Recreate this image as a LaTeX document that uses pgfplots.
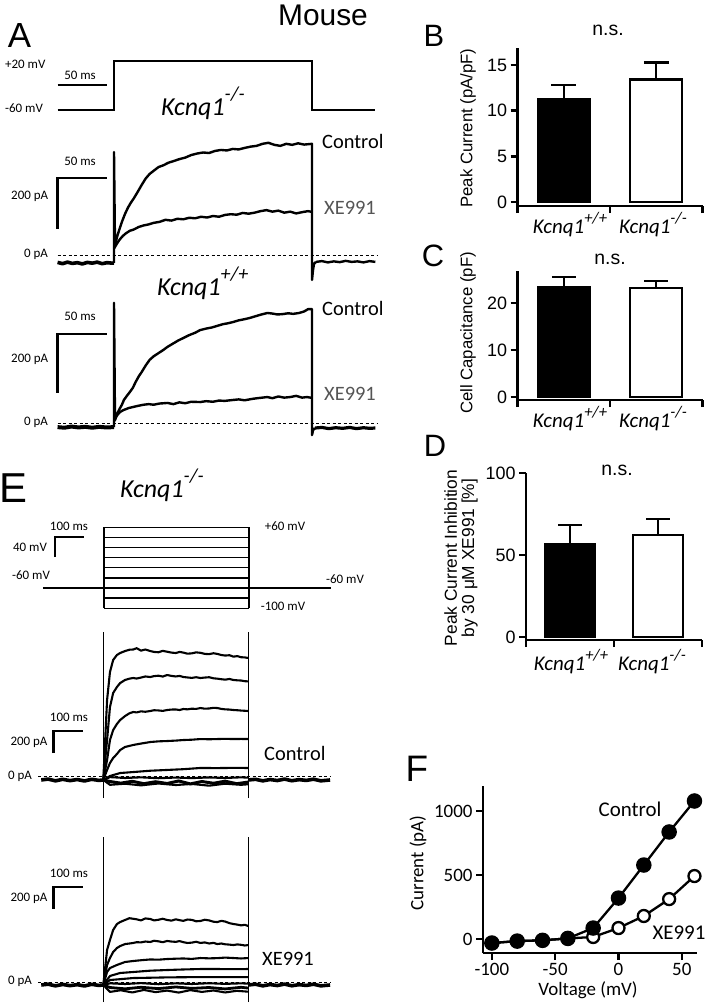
\documentclass[border=0pt]{standalone}
\usepackage{pgfplots}
\pgfplotsset{compat=1.18}
\usepackage{fontspec}
\setmainfont{Carlito}
\newfontfamily\arial{Liberation Sans}
\newcommand\fs[1]{\fontsize{#1}{#1}\selectfont}
\newcommand\supbig[1]{\raisebox{0.55em}{\fs{20}#1}}
\newcommand\supsm[1]{\raisebox{0.45em}{\fs{16.5}#1}}
\definecolor{xegray}{HTML}{555555}

\pgfplotsset{
  trace/.style={hide axis, scale only axis, clip=false, anchor=south west},
  bars/.style={scale only axis, anchor=south west, clip=false,
    xmin=0.5, xmax=2.5,
    axis x line*=bottom, axis y line*=left,
    xtick={0.5,1.5,2.5}, xticklabels={},
    tick align=outside, major tick length=7bp,
    axis line style={line width=2.4bp, black},
    tick style={line width=2.4bp, black},
    yticklabel style={font=\arial\fs{18}},
    /pgf/number format/assume math mode=true},
  sem/.style={error bars/.cd, y dir=plus, y explicit, error mark=|,
    error bar style={line width=2.4bp, black},
    error mark options={line width=2.4bp, mark size=#1, black}},
}
\tikzset{
  t/.style={inner sep=0pt},
  tr/.style={black, line width=2.4bp, line join=round},
  etr/.style={black, line width=2.1bp, line join=round},
  sb/.style={black, line width=2.6bp},
  zero/.style={black, line width=0.8bp, dash pattern=on 3bp off 2.5bp},
}

\begin{document}
\begin{tikzpicture}
\useasboundingbox (0,0) rectangle (709bp,-1007bp);

% ---------------- A: voltage protocol
\begin{axis}[trace, at={(54.6bp,-122.25bp)}, width=326.7bp, height=73.5bp,
  xmin=-60, xmax=270, ymin=-80, ymax=40]
\addplot[black, line width=1.6bp] coordinates {(-57,-60) (0,-60) (0,20) (200,20) (200,-60) (264,-60)};
\addplot[sb] coordinates {(-57,-19) (-7,-19)};
\end{axis}

% ---------------- A: Kcnq1 -/- currents
\begin{axis}[trace, at={(54.6bp,-293.25bp)}, width=326.7bp, height=165.75bp,
  xmin=-60, xmax=270, ymin=-150, ymax=500]
\addplot[zero] coordinates {(-57,0) (266,0)};
\addplot[sb] coordinates {(-57,102) (-57,302) (-7,302)};
\addplot[tr, line width=3.6bp] coordinates {(-57,-29)(-52,-34)(-47,-28)(-42,-33)(-37,-30)(-32,-35)(-27,-29)(-22,-32)(-17,-28)(-12,-34)(-7,-30)(-2,-32)(0,-31)};
\addplot[tr] coordinates {(0,-31)(0,404)(1,35)(3,70)(5,95)(8,130)(11,160)(14,185)(17,205)(20,222)(24,248)(28,275)(32,300)(36,318)(40,330)(45,345)(50,352)(55,362)(60,368)(66,376)(72,382)(78,392)(84,398)(90,402)(96,400)(102,408)(108,412)(114,410)(120,416)(126,414)(132,420)(138,425)(144,428)(150,436)(156,440)(162,432)(168,428)(174,436)(180,432)(186,438)(192,433)(200,436)(200,-98)(201,-60)(202,-35)(204,-27)};
\addplot[tr] coordinates {(0,25)(3,45)(6,62)(9,75)(12,85)(16,95)(20,100)(25,110)(30,116)(35,120)(40,126)(46,130)(52,138)(58,135)(64,142)(70,140)(76,146)(82,144)(88,150)(94,147)(100,153)(106,150)(112,157)(118,160)(124,158)(130,165)(136,162)(142,166)(148,172)(154,176)(160,170)(166,174)(172,166)(178,170)(184,163)(190,168)(196,172)(200,169)};
\addplot[tr] coordinates {(204,-27)(210,-24)(216,-29)(222,-25)(228,-28)(234,-23)(240,-27)(246,-25)(252,-29)(258,-24)(264,-27)};
\end{axis}

% ---------------- A: Kcnq1 +/+ currents
\begin{axis}[trace, at={(54.6bp,-452.5bp)}, width=326.7bp, height=162.25bp,
  xmin=-60, xmax=270, ymin=-100, ymax=450]
\addplot[zero] coordinates {(-57,0) (266,0)};
\addplot[sb] coordinates {(-57,102) (-57,302) (-7,302)};
\addplot[tr, line width=4bp] coordinates {(-57,-14)(-50,-16)(-43,-12)(-36,-15)(-29,-13)(-22,-16)(-15,-13)(-8,-15)(0,-14)};
\addplot[tr] coordinates {(0,-14)(0,407)(1,10)(3,30)(5,44)(8,62)(10,78)(13,92)(16,105)(19,119)(22,140)(25,158)(28,173)(32,195)(36,214)(40,226)(45,237)(50,248)(54,258)(60,270)(65,280)(70,288)(76,298)(82,306)(87,315)(93,320)(99,324)(104,329)(110,335)(115,338)(120,342)(126,348)(132,352)(137,356)(143,362)(149,368)(155,373)(160,371)(165,368)(170,369)(176,372)(181,370)(187,373)(192,378)(196,386)(200,386)(200,-41)(201,-25)(203,-17)};
\addplot[tr] coordinates {(0,5)(2,20)(4,30)(6,37)(9,43)(12,47)(15,51)(19,54)(24,58)(30,62)(35,64)(40,62)(46,66)(54,68)(60,64)(66,70)(72,67)(78,72)(87,71)(93,74)(100,72)(106,76)(112,75)(120,78)(126,80)(132,77)(140,82)(147,85)(155,88)(160,84)(166,90)(172,86)(178,88)(184,92)(190,86)(195,88)(200,85)};
\addplot[tr, line width=3.2bp] coordinates {(203,-17)(210,-15)(217,-19)(224,-16)(231,-18)(238,-15)(245,-19)(252,-16)(258,-18)(264,-17)};
\end{axis}

% ---------------- B
\begin{axis}[bars, at={(517.5bp,-206bp)}, width=185bp, height=158.3bp,
  ymin=-0.44, ymax=16.9, ytick={0,5,10,15}]
\addplot[ybar, bar width=52bp, fill=black, draw=black, line width=2.4bp, sem=12.5bp]
  coordinates {(1,11.3) +- (0,1.5)};
\addplot[ybar, bar width=52bp, fill=white, draw=black, line width=2.4bp, sem=12.5bp]
  coordinates {(2,13.4) +- (0,1.9)};
\end{axis}

% ---------------- C
\begin{axis}[bars, at={(517.5bp,-400bp)}, width=185bp, height=129bp,
  ymin=-0.64, ymax=26.8, ytick={0,10,20}]
\addplot[ybar, bar width=52bp, fill=black, draw=black, line width=2.4bp, sem=12bp]
  coordinates {(1,23.4) +- (0,2.1)};
\addplot[ybar, bar width=52bp, fill=white, draw=black, line width=2.4bp, sem=12bp]
  coordinates {(2,23.2) +- (0,1.5)};
\end{axis}

% ---------------- D
\begin{axis}[bars, at={(526bp,-640bp)}, width=176bp, height=167bp,
  ymin=-1.8, ymax=100, ytick={0,50,100}]
\addplot[ybar, bar width=50bp, fill=black, draw=black, line width=2.4bp, sem=12bp]
  coordinates {(1,56.7) +- (0,11.6)};
\addplot[ybar, bar width=50bp, fill=white, draw=black, line width=2.4bp, sem=12bp]
  coordinates {(2,62.2) +- (0,9.8)};
\end{axis}

% ---------------- E: step protocol
\begin{axis}[trace, at={(37.3bp,-613.3bp)}, width=298.7bp, height=91.1bp,
  xmin=-230, xmax=800, ymin=-110, ymax=70]
\addplot[black, line width=1.4bp] coordinates {(-211,-60) (782,-60)};
\addplot[black, line width=1.4bp] coordinates {(0,-100) (500,-100)};
\addplot[black, line width=1.4bp] coordinates {(0,-80) (500,-80)};
\addplot[black, line width=1.4bp] coordinates {(0,-40) (500,-40)};
\addplot[black, line width=1.4bp] coordinates {(0,-20) (500,-20)};
\addplot[black, line width=1.4bp] coordinates {(0,0) (500,0)};
\addplot[black, line width=1.4bp] coordinates {(0,20) (500,20)};
\addplot[black, line width=1.4bp] coordinates {(0,40) (500,40)};
\addplot[black, line width=1.4bp] coordinates {(0,60) (500,60)};
\addplot[black, line width=1.4bp] coordinates {(0,-100) (0,60)};
\addplot[black, line width=1.4bp] coordinates {(500,-100) (500,60)};
\addplot[sb] coordinates {(-169,1) (-169,41) (-69,41)};
\end{axis}

% ---------------- E: control family
\begin{axis}[trace, at={(36.6bp,-809bp)}, width=298.7bp, height=187bp,
  xmin=-230, xmax=800, ymin=-300, ymax=1400]
\addplot[zero] coordinates {(-225,0) (785,0)};
\addplot[sb] coordinates {(-171,209) (-171,409) (-71,409)};
\addplot[etr, line width=3.6bp] coordinates {(-214,-36)(-190,-28)(-165,-44)(-140,-30)(-115,-42)(-90,-32)(-65,-45)(-40,-30)(-15,-40)(0,-36)};
\addplot[etr, line width=3.6bp] coordinates {(500,-36)(525,-30)(550,-44)(575,-32)(600,-41)(625,-28)(650,-43)(675,-33)(700,-40)(725,-29)(750,-44)(782,-36)};
\addplot[etr, line width=3bp] coordinates {(0,-36)(23,-50)(60,-65)(100,-48)(140,-70)(180,-52)(220,-68)(260,-45)(300,-72)(340,-50)(380,-66)(420,-47)(460,-70)(500,-55)};
\addplot[etr] coordinates {(0,-36)(23,-80)(75,-70)(130,-85)(190,-68)(250,-82)(305,-72)(365,-88)(420,-70)(475,-80)(500,-75)};
\addplot[etr] coordinates {(0,-36)(23,-10)(75,-18)(130,-12)(190,-20)(250,-14)(305,-19)(365,-13)(420,-18)(475,-12)(500,-15)};
\addplot[etr] coordinates {(0,-36)(23,0)(58,27)(103,36)(162,48)(220,55)(276,62)(335,73)(393,72)(449,74)(500,73)};
\addplot[etr] coordinates {(0,-36)(13,55)(23,118)(34,164)(47,200)(58,236)(75,264)(103,282)(130,295)(162,309)(190,315)(220,318)(250,322)(276,327)(305,330)(335,336)(365,334)(393,336)(420,338)(449,336)(475,337)(500,336)};
\addplot[etr] coordinates {(0,-36)(13,145)(23,327)(34,418)(47,473)(58,509)(75,545)(90,570)(103,582)(115,578)(130,588)(145,584)(162,591)(175,598)(190,596)(205,592)(220,600)(235,604)(250,605)(263,600)(276,609)(290,606)(305,612)(320,610)(335,618)(350,612)(365,614)(380,620)(393,618)(407,610)(420,606)(435,604)(449,600)(462,598)(475,595)(488,593)(500,591)};
\addplot[etr] coordinates {(0,-36)(13,327)(23,627)(34,755)(47,809)(58,845)(75,873)(90,885)(103,891)(115,886)(130,895)(145,905)(162,900)(175,908)(190,912)(205,904)(220,918)(235,910)(250,905)(263,910)(276,900)(290,896)(305,892)(320,898)(335,891)(350,895)(365,898)(380,888)(393,885)(407,880)(420,876)(435,882)(449,873)(462,870)(475,868)(488,862)(500,860)};
\addplot[etr] coordinates {(0,-36)(13,691)(23,945)(34,1055)(47,1100)(58,1118)(75,1136)(90,1148)(103,1150)(115,1162)(130,1140)(145,1150)(162,1136)(175,1128)(190,1125)(205,1138)(220,1130)(235,1122)(250,1118)(263,1128)(276,1122)(290,1112)(305,1115)(320,1124)(335,1120)(350,1110)(365,1108)(380,1116)(393,1110)(407,1100)(420,1095)(435,1098)(449,1085)(462,1090)(475,1080)(488,1078)(500,1073)};
\addplot[black, line width=1.6bp] coordinates {(0,-200) (0,1309)};
\addplot[black, line width=1.6bp] coordinates {(500,-200) (500,1309)};
\end{axis}

% ---------------- E: XE991 family
\begin{axis}[trace, at={(36.6bp,-1015bp)}, width=298.7bp, height=187bp,
  xmin=-230, xmax=800, ymin=-300, ymax=1400]
\addplot[zero] coordinates {(-225,0) (785,0)};
\addplot[sb] coordinates {(-171,664) (-171,864) (-71,864)};
\addplot[etr, line width=3.6bp] coordinates {(-214,-27)(-190,-20)(-165,-35)(-140,-22)(-115,-33)(-90,-24)(-65,-36)(-40,-21)(-15,-31)(0,-27)};
\addplot[etr, line width=3.6bp] coordinates {(500,-27)(525,-20)(550,-35)(575,-23)(600,-32)(625,-19)(650,-34)(675,-24)(700,-31)(725,-20)(750,-35)(782,-27)};
\addplot[etr] coordinates {(0,-27)(23,-90)(60,-75)(100,-95)(140,-72)(180,-92)(220,-78)(260,-96)(300,-74)(340,-90)(380,-77)(420,-95)(460,-80)(500,-88)};
\addplot[etr, line width=2.8bp] coordinates {(0,-27)(23,-50)(75,-62)(130,-48)(190,-60)(250,-45)(305,-58)(365,-50)(420,-63)(475,-48)(500,-55)};
\addplot[etr] coordinates {(0,-27)(23,-12)(75,-18)(130,-10)(190,-20)(250,-12)(305,-18)(365,-11)(420,-17)(475,-12)(500,-15)};
\addplot[etr] coordinates {(0,-27)(23,18)(103,36)(220,42)(335,45)(449,45)(500,45)};
\addplot[etr] coordinates {(0,-27)(23,55)(58,82)(103,91)(162,103)(220,109)(276,114)(335,118)(393,118)(449,117)(500,118)};
\addplot[etr] coordinates {(0,-27)(13,91)(23,127)(47,155)(75,182)(103,191)(130,198)(162,205)(190,203)(220,209)(250,212)(276,214)(305,210)(335,218)(365,215)(393,217)(420,222)(449,218)(475,214)(500,218)};
\addplot[etr] coordinates {(0,-27)(13,155)(23,218)(34,273)(47,309)(58,327)(75,345)(90,350)(103,355)(115,362)(130,360)(145,368)(162,364)(175,375)(190,370)(205,362)(220,373)(235,368)(250,365)(263,372)(276,362)(290,355)(305,358)(320,366)(335,355)(350,360)(365,350)(380,356)(393,345)(407,350)(420,343)(435,340)(449,336)(462,342)(475,338)(488,332)(500,336)};
\addplot[etr] coordinates {(0,-27)(13,291)(23,382)(34,473)(47,527)(58,545)(75,564)(90,580)(103,575)(115,570)(130,560)(145,578)(162,573)(175,560)(190,566)(205,575)(220,564)(235,558)(250,570)(263,562)(276,556)(290,568)(305,565)(320,552)(335,555)(350,566)(365,560)(380,548)(393,545)(407,556)(420,550)(435,535)(449,527)(462,522)(475,515)(488,520)(500,509)};
\addplot[black, line width=1.6bp] coordinates {(0,-182) (0,1318)};
\addplot[black, line width=1.6bp] coordinates {(500,-182) (500,1318)};
\end{axis}

% ---------------- F: I-V
\begin{axis}[scale only axis, anchor=south west, at={(483bp,-953bp)},
  width=214bp, height=167bp, clip=false,
  xmin=-107, xmax=62, ymin=-109, ymax=1195,
  axis x line*=bottom, axis y line*=left,
  xtick={-100,-50,0,50}, ytick={0,500,1000},
  tick align=outside, major tick length=7bp,
  axis line style={line width=2.3bp, black},
  tick style={line width=2.3bp, black},
  ticklabel style={font=\fs{19}},
  /pgf/number format/assume math mode=true,
  /pgf/number format/1000 sep={}]
\addplot[black, line width=2.3bp, mark=*, mark size=6bp,
  mark options={fill=white, line width=2.3bp}]
  coordinates {(-100,-31) (-80,-16) (-60,-10) (-40,5) (-20,16) (0,86) (20,180) (40,312) (60,492)};
\addplot[black, line width=2.3bp, mark=*, mark size=6.6bp,
  mark options={fill=black}]
  coordinates {(-100,-31) (-80,-16) (-60,-10) (-40,5) (-20,86) (0,320) (20,578) (40,836) (60,1078)};
\end{axis}

% ---------------- texts
\node[t, font=\arial\fs{35}] at (19.5bp,-36bp) {A};
\node[t, font=\arial\fs{31}] at (434bp,-36bp) {B};
\node[t, font=\arial\fs{31}] at (433bp,-256bp) {C};
\node[t, font=\arial\fs{31}] at (435bp,-446bp) {D};
\node[t, font=\arial\fs{42}] at (13bp,-488bp) {E};
\node[t, font=\arial\fs{37}] at (417bp,-769bp) {F};
\node[t, font=\arial\fs{30}] at (323bp,-15bp) {Mouse};

\node[t, font=\fs{13}, anchor=mid west] at (5bp,-66bp) {+20 mV};
\node[t, font=\fs{13}, anchor=mid west] at (5bp,-110bp) {-60 mV};
\node[t, font=\fs{13}, anchor=mid] at (80bp,-77bp) {50 ms};
\node[t, font=\itshape\fs{26}, anchor=base west] at (161bp,-115bp) {Kcnq1\supbig{-/-}};
\node[t, font=\fs{13}, anchor=mid] at (80bp,-163bp) {50 ms};
\node[t, font=\fs{13}, anchor=mid west] at (11bp,-197bp) {200 pA};
\node[t, font=\fs{13}, anchor=mid west] at (24bp,-255bp) {0 pA};
\node[t, font=\fs{20.5}, anchor=mid west] at (322bp,-146bp) {Control};
\node[t, font=\fs{20.5}, anchor=mid west, text=xegray] at (324bp,-212bp) {XE991};
\node[t, font=\itshape\fs{26}, anchor=base west] at (157bp,-295bp) {Kcnq1\supbig{+/+}};
\node[t, font=\fs{13}, anchor=mid] at (80bp,-318bp) {50 ms};
\node[t, font=\fs{13}, anchor=mid west] at (11bp,-360bp) {200 pA};
\node[t, font=\fs{13}, anchor=mid west] at (24bp,-423bp) {0 pA};
\node[t, font=\fs{20.5}, anchor=mid west] at (322bp,-313bp) {Control};
\node[t, font=\fs{20.5}, anchor=mid west, text=xegray] at (324bp,-398bp) {XE991};

\node[t, font=\arial\fs{19.5}, anchor=mid] at (608bp,-33bp) {n.s.};
\node[t, font=\arial\fs{16.8}, rotate=90] at (468bp,-128bp) {Peak Current (pA/pF)};
\node[t, font=\itshape\fs{21}, anchor=base] at (570bp,-233bp) {Kcnq1\supsm{+/+}};
\node[t, font=\itshape\fs{21}, anchor=base] at (653bp,-233bp) {Kcnq1\supsm{-/-}};

\node[t, font=\arial\fs{19.5}, anchor=mid] at (610bp,-262bp) {n.s.};
\node[t, font=\arial\fs{16.8}, rotate=90] at (468bp,-333bp) {Cell Capacitance (pF)};
\node[t, font=\itshape\fs{21}, anchor=base] at (570bp,-427bp) {Kcnq1\supsm{+/+}};
\node[t, font=\itshape\fs{21}, anchor=base] at (653bp,-427bp) {Kcnq1\supsm{-/-}};

\node[t, font=\arial\fs{19.5}, anchor=mid] at (617bp,-473bp) {n.s.};
\node[t, font=\arial\fs{17.4}, rotate=90, align=center] at (461bp,-558bp) {Peak Current Inhibition\\by 30 μM XE991 [\%]};
\node[t, font=\itshape\fs{21}, anchor=base] at (571bp,-670bp) {Kcnq1\supsm{+/+}};
\node[t, font=\itshape\fs{21}, anchor=base] at (652bp,-670bp) {Kcnq1\supsm{-/-}};

\node[t, font=\itshape\fs{26}, anchor=base west] at (120bp,-497bp) {Kcnq1\supbig{-/-}};
\node[t, font=\fs{13}, anchor=mid] at (69bp,-528bp) {100 ms};
\node[t, font=\fs{13}, anchor=mid] at (30bp,-549bp) {40 mV};
\node[t, font=\fs{13}, anchor=mid] at (31bp,-577bp) {-60 mV};
\node[t, font=\fs{13}, anchor=mid] at (285bp,-528bp) {+60 mV};
\node[t, font=\fs{13}, anchor=mid] at (345bp,-581bp) {-60 mV};
\node[t, font=\fs{13}, anchor=mid] at (283bp,-608bp) {-100 mV};
\node[t, font=\fs{13}, anchor=mid] at (69bp,-719bp) {100 ms};
\node[t, font=\fs{13}, anchor=mid] at (29bp,-743bp) {200 pA};
\node[t, font=\fs{13}, anchor=mid] at (20bp,-777bp) {0 pA};
\node[t, font=\fs{20.5}, anchor=mid west] at (264bp,-758bp) {Control};
\node[t, font=\fs{13}, anchor=mid] at (69bp,-875bp) {100 ms};
\node[t, font=\fs{13}, anchor=mid] at (29bp,-899bp) {200 pA};
\node[t, font=\fs{13}, anchor=mid] at (20bp,-982bp) {0 pA};
\node[t, font=\fs{20.5}, anchor=mid west] at (262bp,-963bp) {XE991};

\node[t, font=\fs{21}, anchor=mid] at (630bp,-814bp) {Control};
\node[t, font=\fs{21}, anchor=mid] at (679bp,-937bp) {XE991};
\node[t, font=\fs{19}, anchor=mid] at (588bp,-993bp) {Voltage (mV)};
\node[t, font=\fs{19}, rotate=90] at (418bp,-863bp) {Current (pA)};
\end{tikzpicture}
\end{document}
